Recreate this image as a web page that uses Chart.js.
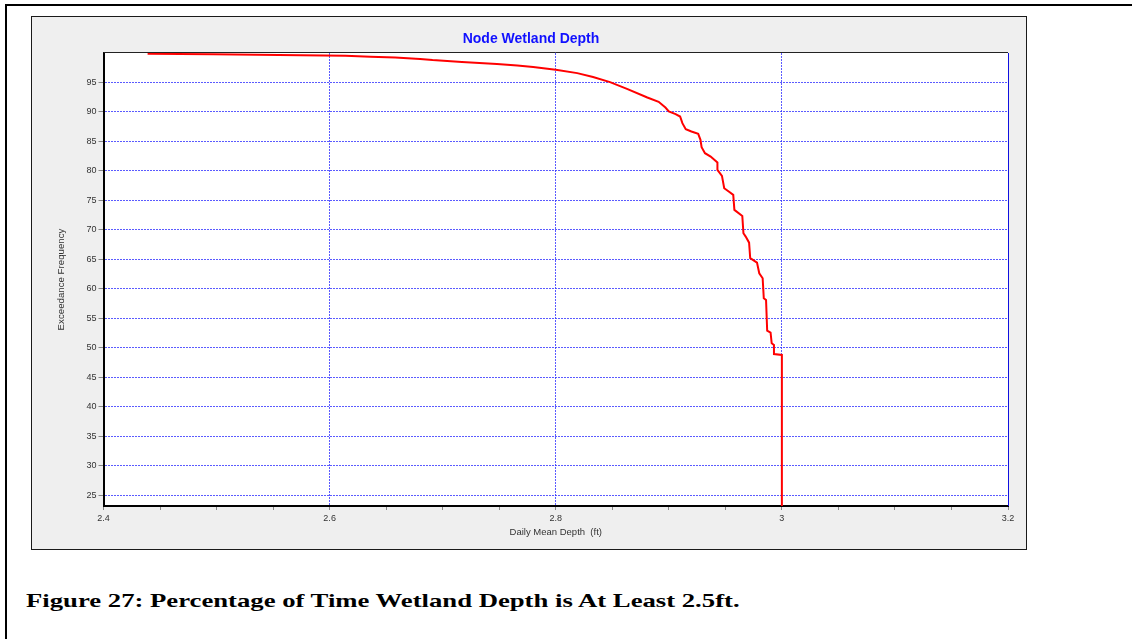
<!DOCTYPE html>
<html>
<head>
<meta charset="utf-8">
<script src="https://cdn.jsdelivr.net/npm/chart.js@4.4.1/dist/chart.umd.min.js"></script>
<style>
  html, body { margin: 0; padding: 0; background: #fff; }
  body { width: 1132px; height: 639px; position: relative; overflow: hidden; }
  #frame {
    position: absolute; left: 5px; top: 4px; width: 1140px; height: 650px;
    border-top: 2px solid #000; border-left: 2px solid #000;
  }
  #panel {
    position: absolute; left: 31px; top: 16px; width: 994px; height: 532px;
    border: 1px solid #1a1a1a; background: #efefef;
  }
  #panel canvas { display: block; }
  #caption {
    position: absolute; left: 26px; top: 591px;
    font-family: "Liberation Serif", "Times New Roman", serif;
    font-weight: bold; font-size: 26.7px; line-height: 26.7px;
    white-space: nowrap; color: #000;
    transform: scaleY(0.73); transform-origin: 0 0;
  }
</style>
</head>
<body>
<div id="frame"></div>
<div id="panel"><canvas id="depth" width="994" height="532"></canvas></div>
<div id="caption">Figure 27: Percentage of Time Wetland Depth is At Least 2.5ft.</div>

<script>
// Exceedance curve: daily mean depth (ft) vs. % of time it is equalled or exceeded
const depth = [2.439, 2.497, 2.555, 2.614, 2.636, 2.658, 2.680, 2.691, 2.717, 2.748,
  2.766, 2.780, 2.800, 2.819, 2.833, 2.848, 2.863, 2.881, 2.891, 2.897,
  2.900, 2.906, 2.910, 2.912, 2.915, 2.920, 2.926, 2.928, 2.929, 2.932,
  2.937, 2.943, 2.943, 2.947, 2.949, 2.953, 2.957, 2.958, 2.965, 2.966,
  2.968, 2.971, 2.972, 2.978, 2.980, 2.983, 2.984, 2.986, 2.987, 2.990,
  2.991, 2.993, 2.993, 3.000, 3.000];
const exceedance = [99.87, 99.78, 99.65, 99.53, 99.36, 99.24, 99.00, 98.80, 98.46, 98.12,
  97.88, 97.61, 97.15, 96.59, 95.92, 95.07, 93.93, 92.46, 91.73, 90.76,
  90.08, 89.64, 89.23, 88.11, 87.09, 86.69, 86.30, 85.28, 84.04, 83.02,
  82.44, 81.43, 80.19, 79.17, 77.08, 76.51, 75.95, 73.40, 72.38, 69.45,
  68.87, 67.85, 65.21, 64.46, 62.66, 61.81, 58.42, 58.13, 52.92, 52.58,
  50.79, 50.50, 48.97, 48.80, 23.2];

// tick positions
const xTicks = [2.4, 2.45, 2.5, 2.55, 2.6, 2.65, 2.7, 2.75, 2.8, 2.85, 2.9, 2.95, 3, 3.05, 3.1, 3.15, 3.2];
const xMajor = [2.4, 2.6, 2.8, 3, 3.2];
const yTicks = [25, 30, 35, 40, 45, 50, 55, 60, 65, 70, 75, 80, 85, 90, 95];

const gridBlue = 'rgba(50, 50, 255, 0.8)';

// white plot area with a dark top edge and blue right edge
const plotFrame = {
  id: 'plotFrame',
  beforeDraw(chart) {
    const { ctx, chartArea: a } = chart;
    ctx.save();
    ctx.fillStyle = '#fff';
    ctx.fillRect(a.left, a.top, a.right - a.left, a.bottom - a.top);
    ctx.restore();
  },
  afterDraw(chart) {
    const { ctx, chartArea: a } = chart;
    ctx.save();
    ctx.lineWidth = 1;
    ctx.strokeStyle = '#222';
    ctx.beginPath();
    ctx.moveTo(a.left, Math.round(a.top) - 0.5);
    ctx.lineTo(a.right, Math.round(a.top) - 0.5);
    ctx.stroke();
    ctx.strokeStyle = '#1010e0';
    ctx.beginPath();
    ctx.moveTo(Math.round(a.right) + 0.5, a.top);
    ctx.lineTo(Math.round(a.right) + 0.5, a.bottom);
    ctx.stroke();
    ctx.restore();
  }
};

new Chart(document.getElementById('depth'), {
  type: 'line',
  data: {
    datasets: [{
      data: depth.map((d, i) => ({ x: d, y: exceedance[i] })),
      borderColor: '#ff0000',
      borderWidth: 2,
      pointRadius: 0,
      tension: 0,
      fill: false
    }]
  },
  options: {
    responsive: false,
    animation: false,
    layout: { padding: { top: 0, left: 22, right: 18, bottom: 0 } },
    plugins: {
      legend: { display: false },
      tooltip: { enabled: false },
      title: {
        display: true,
        text: 'Node Wetland Depth',
        color: '#1010ff',
        font: { family: 'Arial, "Liberation Sans"', size: 14, weight: 'bold' },
        padding: { top: 13.3, bottom: 5.9 }
      }
    },
    scales: {
      x: {
        type: 'linear',
        min: 2.4,
        max: 3.2,
        afterBuildTicks: scale => { scale.ticks = xTicks.map(v => ({ value: v })); },
        afterFit: scale => { scale.height = 43; },
        ticks: {
          autoSkip: false,
          maxRotation: 0,
          padding: 3,
          color: '#333',
          font: { family: 'Arial, "Liberation Sans"', size: 9 },
          callback: v => xMajor.includes(v) ? String(v) : ''
        },
        grid: {
          color: ctx => xMajor.includes(ctx.tick && ctx.tick.value) ? gridBlue : 'rgba(0,0,0,0)',
          lineWidth: 1,
          tickColor: '#888',
          tickLength: 4
        },
        border: { color: '#000', width: 2, dash: [2, 1] },
        title: {
          display: true,
          text: 'Daily Mean Depth  (ft)',
          color: '#333',
          font: { family: 'Arial, "Liberation Sans"', size: 9.5 },
          padding: { top: 0, bottom: 11.3 }
        }
      },
      y: {
        type: 'linear',
        min: 23.2,
        max: 100,
        afterBuildTicks: scale => { scale.ticks = yTicks.map(v => ({ value: v })); },
        afterFit: scale => { scale.width = 49.5; },
        ticks: {
          autoSkip: false,
          padding: 2,
          color: '#333',
          font: { family: 'Arial, "Liberation Sans"', size: 9 },
          callback: v => String(v)
        },
        grid: {
          color: gridBlue,
          lineWidth: 1,
          tickColor: '#888',
          tickLength: 5
        },
        border: { color: '#000', width: 2, dash: [2, 1] },
        title: {
          display: true,
          text: 'Exceedance Frequency',
          color: '#333',
          font: { family: 'Arial, "Liberation Sans"', size: 9.7 },
          padding: { top: 1.9, bottom: 0 }
        }
      }
    }
  },
  plugins: [plotFrame]
});
</script>
</body>
</html>
